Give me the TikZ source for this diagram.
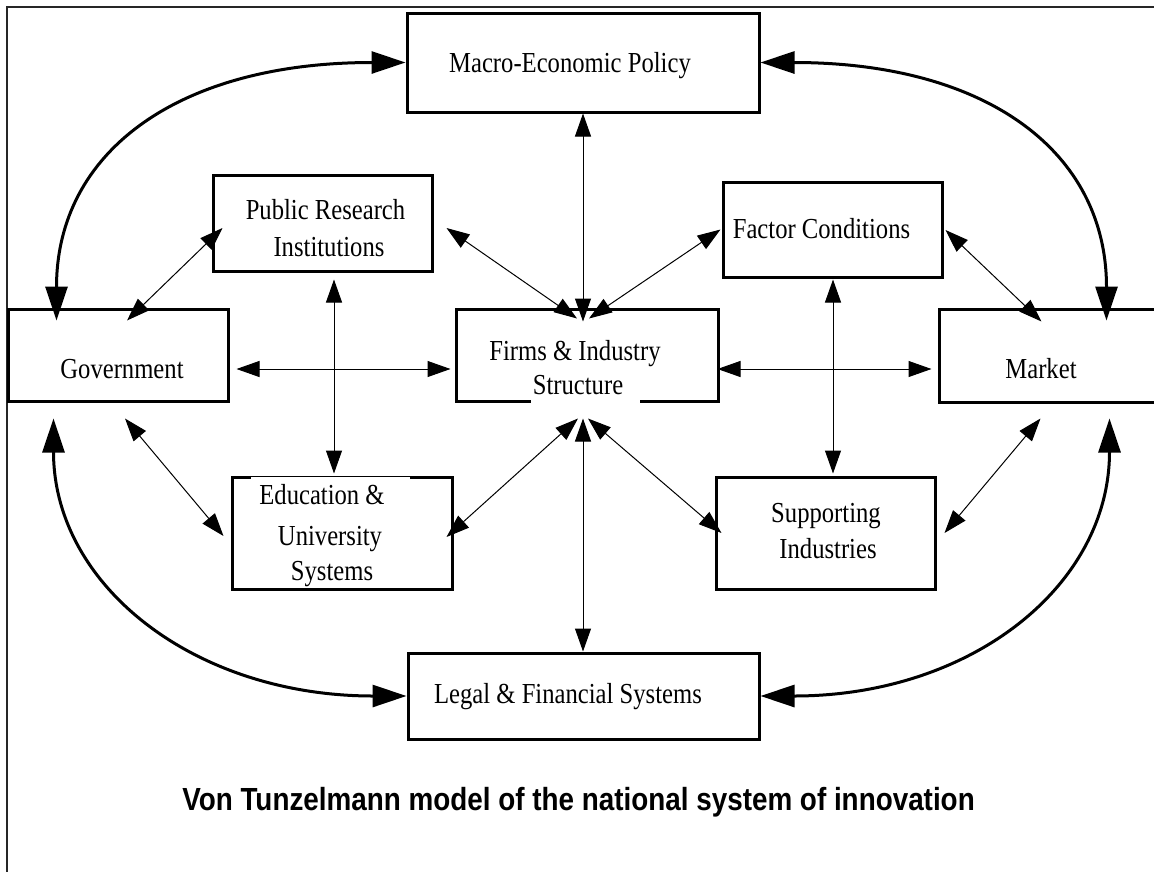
\documentclass[tikz,border=0pt]{standalone}
\usepackage{fontspec}
\setmainfont{Liberation Serif}
\newfontfamily\boxfont{Liberation Serif}[FakeStretch=0.85]
\newfontfamily\capfont{Liberation Sans}[FakeStretch=0.87]
\usetikzlibrary{arrows.meta}

\tikzset{
  box/.style={draw, line width=3pt, rectangle, inner sep=0pt},
  lbl/.style={inner sep=0pt, anchor=base, font=\boxfont\fontsize{29pt}{36pt}\selectfont},
  thinarr/.style={line width=1pt,
    {Triangle[length=23pt,width=16pt]}-{Triangle[length=23pt,width=16pt]}},
  bigarr/.style={line width=3pt,
    {Triangle[length=34pt,width=22pt]}-{Triangle[length=34pt,width=22pt]}},
  frameline/.style={line width=1.4pt, draw=black!85},
}

\begin{document}
\begin{tikzpicture}[x=1pt, y=-1pt]
  \fill[white] (0,0) rectangle (1154,871);
  \useasboundingbox (0,0) rectangle (1154,871);

  % outer frame (top and left edges)
  \draw[frameline] (1160,7) -- (7,7) -- (7,880);

  % boxes
  \node[box, minimum width=352pt, minimum height=99pt] (macro)  at (583,62.5)   {};
  \node[box, minimum width=219pt, minimum height=96pt] (pub)    at (322.5,223)  {};
  \node[box, minimum width=219pt, minimum height=95pt] (factor) at (832.5,229.5){};
  \node[box, minimum width=220pt, minimum height=92pt] (gov)    at (118,355)    {};
  \node[box, minimum width=262pt, minimum height=92pt] (firms)  at (587,355)    {};
  \node[box, minimum width=241pt, minimum height=93pt] (market) at (1059.5,355.5){};
  \node[box, minimum width=220pt, minimum height=112pt] (edu)   at (342,533)    {};
  \node[box, minimum width=219pt, minimum height=112pt] (supp)  at (825.5,533)  {};
  \node[box, minimum width=351pt, minimum height=86pt] (legal)  at (583.5,696)  {};

  % text backgrounds that cut into the borders
  \fill[white] (251,476.5) rectangle (410,479.5);
  \fill[white] (531,398) rectangle (640,404);

  % labels
  \node[lbl] (t-macro)  at (570,72)   {Macro-Economic Policy};
  \node[lbl] (t-pub1)   at (325.5,219){Public Research};
  \node[lbl] (t-pub2)   at (329,256)  {Institutions};
  \node[lbl] (t-factor) at (821.5,238){Factor Conditions};
  \node[lbl] (t-gov)    at (122,378)  {Government};
  \node[lbl] (t-firms1) at (575,360)  {Firms \& Industry};
  \node[lbl] (t-firms2) at (578,394)  {Structure};
  \node[lbl] (t-market) at (1041,378) {Market};
  \node[lbl] (t-edu1)   at (322,504)  {Education \&};
  \node[lbl] (t-edu2)   at (330,545)  {University};
  \node[lbl] (t-edu3)   at (332,580)  {Systems};
  \node[lbl] (t-supp1)  at (826,522)  {Supporting};
  \node[lbl] (t-supp2)  at (828,558)  {Industries};
  \node[lbl] (t-legal)  at (568,703)  {Legal \& Financial Systems};
  \node[inner sep=0pt, anchor=base, font=\capfont\bfseries\fontsize{32pt}{38pt}\selectfont]
    (title) at (578.5,810) {Von Tunzelmann model of the national system of innovation};

  % thin two-way links
  \draw[thinarr] ([shift={(9,13)}]gov.north) -- ([shift={(11,5)}]pub.west);
  \draw[thinarr] ([shift={(13,5)}]pub.east) -- ([shift={(-10,11)}]firms.north);
  \draw[thinarr] (macro.south) -- ([shift={(-4,14)}]firms.north);
  \draw[thinarr] ([shift={(-1,0)}]factor.west) -- ([shift={(2,11)}]firms.north);
  \draw[thinarr] ([shift={(2,0.5)}]factor.east) -- ([shift={(104,14)}]market.north west);
  \draw[thinarr] ([shift={(7,14)}]gov.east) -- ([shift={(-4,14)}]firms.west);
  \draw[thinarr] ([shift={(-2,14)}]firms.east) -- ([shift={(-6,13.5)}]market.west);
  \draw[thinarr] ([shift={(11.5,7)}]pub.south) -- ([shift={(-8,-2)}]edu.north);
  \draw[thinarr] ([shift={(0.5,1)}]factor.south) -- ([shift={(7.5,-2)}]supp.north);
  \draw[thinarr] ([shift={(7,16)}]gov.south) -- ([shift={(-7,3)}]edu.west);
  \draw[thinarr] ([shift={(-9,16)}]firms.south) -- ([shift={(-7,4)}]edu.east);
  \draw[thinarr] ([shift={(1,16)}]firms.south) -- ([shift={(7,0)}]supp.west);
  \draw[thinarr] ([shift={(-4,16)}]firms.south) -- ([shift={(-0.5,0)}]legal.north);
  \draw[thinarr] ([shift={(103,15)}]market.south west) -- ([shift={(8,0)}]supp.east);

  % heavy curved links round the outside
  \draw[bigarr] ([shift={(50,13)}]gov.north west)
    .. controls +(0,-169) and +(-227,0) .. (macro.west);
  \draw[bigarr] (macro.east)
    .. controls +(226,0) and +(0,-169) .. ([shift={(169,13)}]market.north west);
  \draw[bigarr] ([shift={(47,16)}]gov.south west)
    .. controls +(0,167) and +(-212,0) .. (legal.west);
  \draw[bigarr] ([shift={(172,15)}]market.south west)
    .. controls +(0,167) and +(211,0) .. (legal.east);
\end{tikzpicture}
\end{document}
